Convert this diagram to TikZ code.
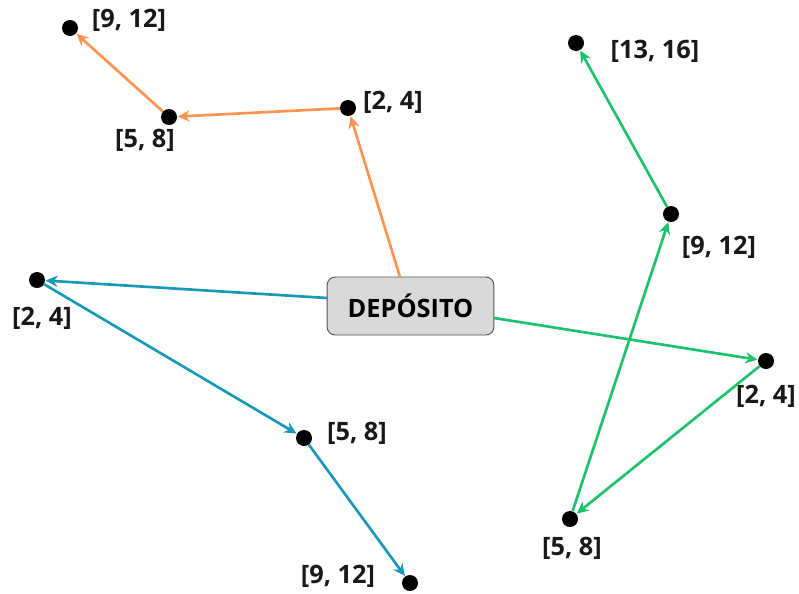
\documentclass[tikz,border=0pt]{standalone}
\usepackage{fontspec}
\setmainfont{Open Sans}
\usetikzlibrary{arrows.meta}
\definecolor{orng}{HTML}{FA9450}
\definecolor{blu}{HTML}{1A98B8}
\definecolor{grn}{HTML}{1FC26C}
\definecolor{boxfill}{HTML}{D9D9D9}
\definecolor{boxline}{HTML}{555555}
\begin{document}
\begin{tikzpicture}[x=0.75pt,y=-0.75pt,
  stop/.style={circle,fill=black,inner sep=0pt,minimum size=12pt},
  lbl/.style={font=\fontsize{19}{22}\selectfont\bfseries,text=black!90,inner sep=0pt},
  route/.style={line width=2pt,-{Stealth[length=9pt,width=8.5pt]},shorten >=0.3pt},
  depot/.style={draw=boxline,fill=boxfill,rounded corners=6pt,line width=0.7pt,minimum width=125pt,minimum height=43.5pt,font=\fontsize{19}{22}\selectfont\bfseries}]
\useasboundingbox (0,0) rectangle (799,593);
\node[depot] (dep) at (410.5,306) {DEPÓSITO};
% orange
\node[stop] (a) at (348,108) {};
\node[stop] (b) at (169,117) {};
\node[stop] (c) at (70,28) {};
\node[lbl] at (393,102) {[2, 4]};
\node[lbl] at (145,140) {[5, 8]};
\node[lbl] at (129,20) {[9, 12]};
\coordinate (dtop) at (400,277);
\draw[route,orng] (dtop) -- (a);
\draw[route,orng] (a) -- (b);
\draw[route,orng] (b) -- (c);
% blue
\node[stop] (d) at (37,280) {};
\node[stop] (e) at (304,438) {};
\node[stop] (f) at (410,583) {};
\node[lbl] at (42,318) {[2, 4]};
\node[lbl] at (357,433) {[5, 8]};
\node[lbl] at (338,576) {[9, 12]};
\coordinate (dleft) at (327,298);
\draw[route,blu] (dleft) -- (d);
\draw[route,blu] (d) -- (e);
\draw[route,blu] (e) -- (f);
% green
\node[stop] (g) at (766,361) {};
\node[stop] (h) at (570,519) {};
\node[stop] (i) at (671,214) {};
\node[stop] (j) at (576,43) {};
\node[lbl] at (766,396) {[2, 4]};
\node[lbl] at (572,548) {[5, 8]};
\node[lbl] at (719,247) {[9, 12]};
\node[lbl] at (655,51) {[13, 16]};
\coordinate (dright) at (494,318);
\draw[route,grn] (dright) -- (g);
\draw[route,grn] (g) -- (h);
\draw[route,grn] (h) -- (i);
\draw[route,grn] (i) -- (j);
\end{tikzpicture}
\end{document}
